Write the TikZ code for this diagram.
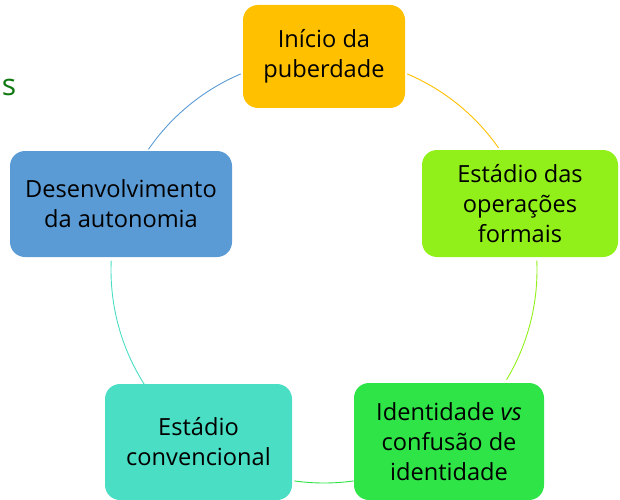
\documentclass[tikz,border=0pt]{standalone}
\usepackage{fontspec}
\setmainfont{Open Sans}
\usetikzlibrary{positioning}
\definecolor{cOrange}{RGB}{255,192,0}
\definecolor{cLime}{RGB}{146,240,26}
\definecolor{cGreen}{RGB}{46,228,70}
\definecolor{cTeal}{RGB}{74,222,196}
\definecolor{cBlue}{RGB}{91,155,213}
\definecolor{cDark}{RGB}{16,120,16}

\begin{document}
\begin{tikzpicture}[x=1pt,y=1pt,
  stage/.style={rounded corners=15pt,align=center,inner sep=0pt,
    font=\fontsize{23.6}{30}\selectfont},
  ring/.style={line width=0.9pt}]
\useasboundingbox (0,0) rectangle (620,499);
\coordinate (c) at (324,229);
\draw[ring,cOrange] (c) ++(67:213pt) arc[start angle=67,end angle=35,radius=213pt];
\draw[ring,cLime] (c) ++(2.5:213pt) arc[start angle=2.5,end angle=-31,radius=213pt];
\draw[ring,cGreen] (c) ++(-82:213pt) arc[start angle=-82,end angle=-98,radius=213pt];
\draw[ring,cTeal] (c) ++(-147:213pt) arc[start angle=-147,end angle=-182.5,radius=213pt];
\draw[ring,cBlue] (c) ++(145.5:213pt) arc[start angle=145.5,end angle=113,radius=213pt];
\node[stage,fill=cOrange,minimum width=162pt,minimum height=103pt] (puberdade) at (324,442.5) {Início da\\puberdade};
\node[stage,fill=cLime,minimum width=196pt,minimum height=107pt] (formais) at (520,295.5) {Estádio das\\operações\\formais};
\node[stage,fill=cGreen,minimum width=190pt,minimum height=117pt] (identidade) at (449,57.5) {Identidade \textit{vs}\\confusão de\\identidade};
\node[stage,fill=cTeal,minimum width=187pt,minimum height=116pt] (convencional) at (198.5,57) {Estádio\\convencional};
\node[stage,fill=cBlue,minimum width=222pt,minimum height=106pt] (autonomia) at (121,295) {Desenvolvimento\\da autonomia};
\node[text=cDark,font=\fontsize{30}{36}\selectfont] (resto) at (9,412) {s};
\end{tikzpicture}
\end{document}
